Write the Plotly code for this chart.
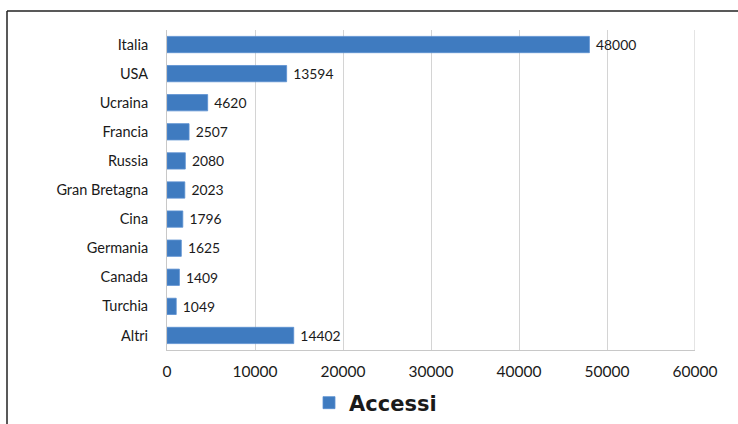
import plotly.graph_objects as go

categories = ["Italia", "USA", "Ucraina", "Francia", "Russia", "Gran Bretagna",
              "Cina", "Germania", "Canada", "Turchia", "Altri"]
values = [48000, 13594, 4620, 2507, 2080, 2023, 1796, 1625, 1409, 1049, 14402]
x_ticks = [0, 10000, 20000, 30000, 40000, 50000, 60000]
series_name = "Accessi"

W, H = 738, 424
L, R, T, B = 167, 43, 30, 74
pw, ph = W - L - R, H - T - B

FONT = "Lato, Open Sans, sans-serif"

fig = go.Figure()
fig.add_trace(go.Bar(
    y=categories, x=values, orientation="h", name=series_name,
    marker=dict(color="#3f7bc0", line=dict(color="#5b8fd0", width=0.8)),
    text=["\u00a0" + str(v) for v in values], textposition="outside", cliponaxis=False,
    textfont=dict(family=FONT, size=14.5, color="#1a1a1a"),
    showlegend=True,
))

def px_x(p):
    return (p - L) / pw

def px_y(p):
    return (H - B - p) / ph

fig.update_layout(
    width=W, height=H,
    margin=dict(l=L, r=R, t=T, b=B, autoexpand=False),
    paper_bgcolor="white", plot_bgcolor="white",
    bargap=0.44,
    font=dict(family=FONT, size=14, color="#1a1a1a"),
    xaxis=dict(range=[0, 60000], tickvals=x_ticks, ticktext=[str(t) for t in x_ticks],
               showgrid=True, gridcolor="#d4d4d4", gridwidth=1,
               zeroline=False, showline=True, linecolor="#c8c8c8",
               ticks="", ticklabelstandoff=7, fixedrange=True,
               tickfont=dict(size=15.5)),
    yaxis=dict(autorange="reversed", showgrid=False, showline=True, linecolor="#c8c8c8",
               ticks="", ticklabelstandoff=15, tickfont=dict(size=14.5)),
    legend=dict(orientation="h", xref="container", yref="container",
                x=309 / W, xanchor="left", y=(H - 403) / H, yanchor="middle",
                font=dict(size=21, color="#1a1a1a", family="DejaVu Sans", weight="bold"),
                itemwidth=30),
    shapes=[
        dict(type="line", xref="paper", yref="paper", x0=px_x(7), x1=px_x(745),
             y0=px_y(11), y1=px_y(11), line=dict(color="#222222", width=1.5)),
        dict(type="line", xref="paper", yref="paper", x0=px_x(7), x1=px_x(7),
             y0=px_y(11), y1=px_y(424), line=dict(color="#222222", width=1.5)),
        dict(type="line", xref="x", yref="paper", x0=60000, x1=60000, y0=0, y1=1,
             line=dict(color="#c8c8c8", width=1)),
    ],
)

fig.write_html("out.html")
